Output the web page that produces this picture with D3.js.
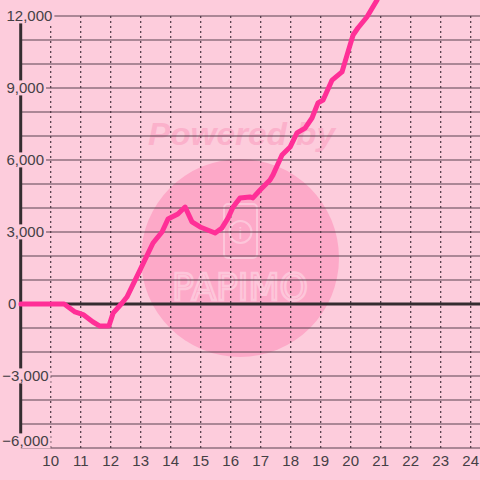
<!DOCTYPE html>
<html>
<head>
<meta charset="utf-8">
<script src="https://cdn.jsdelivr.net/npm/d3@7"></script>
<style>
  body { margin: 0; background: #fdccdc; }
  svg { display: block; font-family: "Liberation Sans", Arial, sans-serif; }
</style>
</head>
<body>
<div id="chart"></div>
<script>
'use strict';

// data
const xs = [9, 10.45, 10.81, 11.08, 11.41, 11.64, 11.94, 12.08, 12.38, 12.54, 12.98, 13.41, 13.71, 13.91,
    14.24, 14.48, 14.71, 14.98, 15.48, 15.71, 15.91, 16.08, 16.31, 16.64, 16.74, 16.98, 17.31, 17.41,
    17.71, 17.98, 18.21, 18.48, 18.71, 18.91, 19.08, 19.38, 19.71, 19.88, 20.08, 20.24, 20.54, 20.88];
const values = [0, 0, -330, -440, -750, -920, -920, -380, 40, 290, 1420, 2540, 3000, 3540,
    3750, 4040, 3420, 3210, 2960, 3170, 3580, 4040, 4420, 4460, 4420, 4750, 5170, 5380,
    6210, 6540, 7130, 7330, 7750, 8380, 8500, 9330, 9670, 10380, 11210, 11500, 11960, 12670];
const xTicks = d3.range(10, 25);
const yTicks = [-6000, -3000, 0, 3000, 6000, 9000, 12000];
const yGrid = d3.range(-6000, 13000, 1000);

const W = 480, H = 480;
const pink = "#fdccdc";

const svg = d3.select("#chart").append("svg")
    .attr("width", W)
    .attr("height", H);

svg.append("rect").attr("width", W).attr("height", H).attr("fill", pink);

const x = d3.scaleLinear().domain([9, 24]).range([20.7, 470.7]);
const y = d3.scaleLinear().domain([-6000, 12000]).range([448, 16]);

// watermark
const wm = svg.append("g");
wm.append("text")
    .attr("x", 148).attr("y", 145)
    .attr("textLength", 187)
    .attr("lengthAdjust", "spacingAndGlyphs")
    .attr("font-size", 31)
    .attr("font-weight", "bold")
    .attr("font-style", "italic")
    .attr("fill", "#fbb1cb")
    .text("Powered by");
wm.append("circle")
    .attr("cx", 240).attr("cy", 258).attr("r", 99)
    .attr("fill", "#fda9c8");
wm.append("rect")
    .attr("x", 224).attr("y", 204).attr("width", 33).attr("height", 54).attr("rx", 4)
    .attr("fill", "none").attr("stroke", "#fdc6da").attr("stroke-width", 2);
wm.append("circle")
    .attr("cx", 240.5).attr("cy", 232).attr("r", 11)
    .attr("fill", "none").attr("stroke", "#fdc6da").attr("stroke-width", 2);
wm.append("text")
    .attr("x", 240.5).attr("y", 239)
    .attr("text-anchor", "middle")
    .attr("font-size", 17)
    .attr("fill", "#fdc6da")
    .text("i");
wm.append("text")
    .attr("x", 172).attr("y", 300)
    .attr("textLength", 136)
    .attr("lengthAdjust", "spacingAndGlyphs")
    .attr("font-family", "DejaVu Sans")
    .attr("font-size", 38)
    .attr("fill", "none")
    .attr("stroke", "#fdc6da")
    .attr("stroke-width", 2.5)
    .text("PAPIMO");

// grid
svg.append("g")
    .selectAll("line")
    .data(yGrid)
    .enter().append("line")
    .attr("x1", x(9)).attr("x2", W)
    .attr("y1", d => y(d)).attr("y2", d => y(d))
    .attr("stroke", "#5a4350")
    .attr("stroke-width", 1.2);

svg.append("g")
    .selectAll("line")
    .data(xTicks)
    .enter().append("line")
    .attr("x1", d => x(d)).attr("x2", d => x(d))
    .attr("y1", y(12000)).attr("y2", y(-6000))
    .attr("stroke", "#4a3642")
    .attr("stroke-width", 1.2)
    .attr("stroke-dasharray", "2,3");

// y axis and zero line
svg.append("line")
    .attr("x1", x(9)).attr("x2", x(9))
    .attr("y1", y(12000)).attr("y2", y(-6000))
    .attr("stroke", "#352c30").attr("stroke-width", 3);
svg.append("line")
    .attr("x1", x(9)).attr("x2", W)
    .attr("y1", y(0)).attr("y2", y(0))
    .attr("stroke", "#352c30").attr("stroke-width", 3);

// series
const line = d3.line()
    .x((d, i) => x(xs[i]))
    .y(d => y(d));

svg.append("path")
    .datum(values)
    .attr("d", line)
    .attr("fill", "none")
    .attr("stroke", "#ff2f97")
    .attr("stroke-width", 5)
    .attr("stroke-linejoin", "round")
    .attr("stroke-linecap", "round");

// y labels with background
const fmt = d3.format(",");
const yl = svg.append("g");
yTicks.forEach(t => {
    let ty = y(t);
    if (t === -6000) ty -= 7;
    const g = yl.append("g");
    const txt = g.append("text")
        .attr("x", t < 0 ? 2.3 : (t === 0 ? 8 : 6.5))
        .attr("y", ty)
        .attr("dy", "0.36em")
        .attr("font-size", 15)
        .attr("fill", "#454045")
        .text(fmt(t));
    const bb = txt.node().getBBox();
    g.insert("rect", "text")
        .attr("x", bb.x - 1).attr("y", bb.y + 1)
        .attr("width", bb.width + 3).attr("height", bb.height - 2)
        .attr("fill", pink);
});

// x labels
svg.append("g")
    .selectAll("text")
    .data(xTicks)
    .enter().append("text")
    .attr("x", d => x(d))
    .attr("y", 461)
    .attr("dy", "0.36em")
    .attr("text-anchor", "middle")
    .attr("font-size", 15)
    .attr("fill", "#454045")
    .text(d => d);
</script>
</body>
</html>
